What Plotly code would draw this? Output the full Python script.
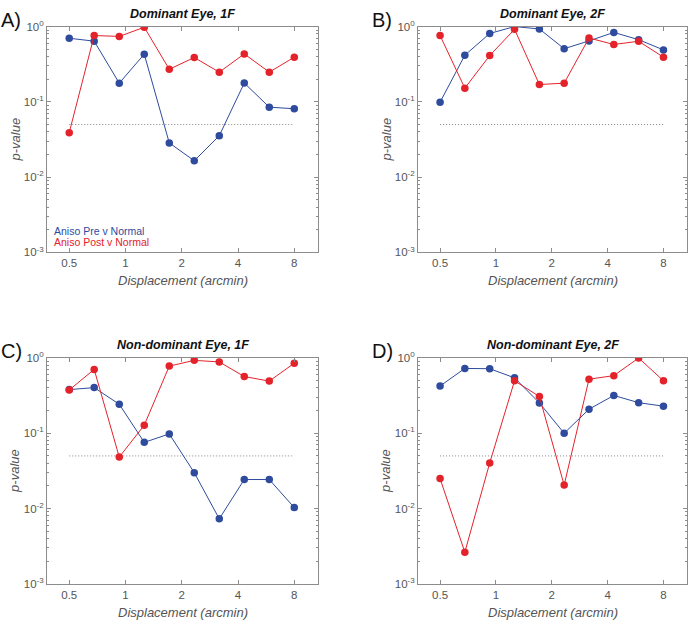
import plotly.graph_objects as go

# ---------------- data ----------------
displacement = [0.5, 0.68, 0.926, 1.26, 1.715, 2.333, 3.175, 4.32, 5.879, 8.0]

dom1f_pre = [0.70, 0.64, 0.177, 0.43, 0.0285, 0.0165, 0.0355, 0.178, 0.085, 0.081]
dom1f_post = [0.039, 0.76, 0.74, 0.98, 0.271, 0.388, 0.248, 0.433, 0.248, 0.392]

dom2f_pre = [0.099, 0.416, 0.81, 1.0, 0.93, 0.508, 0.645, 0.836, 0.67, 0.49]
dom2f_post = [0.76, 0.152, 0.412, 0.92, 0.17, 0.177, 0.705, 0.578, 0.638, 0.392]

nd1f_pre = [0.38, 0.404, 0.243, 0.0757, 0.098, 0.030, 0.0073, 0.0243, 0.0243, 0.0103]
nd1f_post = [0.376, 0.705, 0.0483, 0.128, 0.78, 0.93, 0.887, 0.567, 0.493, 0.853]

nd2f_pre = [0.424, 0.727, 0.72, 0.545, 0.253, 0.10, 0.209, 0.318, 0.255, 0.229]
nd2f_post = [0.025, 0.00263, 0.0404, 0.498, 0.308, 0.0205, 0.523, 0.583, 1.0, 0.498]

alpha_x = [0.5, 8.0]
alpha_y = [0.05, 0.05]

panel_titles = ["Dominant Eye, 1F", "Dominant Eye, 2F",
                "Non-dominant Eye, 1F", "Non-dominant Eye, 2F"]
panel_letters = ["A)", "B)", "C)", "D)"]
series_names = ["Aniso Pre v Normal", "Aniso Post v Normal"]

x_tickvals = [0.5, 1, 2, 4, 8]
x_ticktext = ["0.5", "1", "2", "4", "8"]
y_tickvals = [0.001, 0.01, 0.1, 1]
y_ticktext = ["10<sup>-3</sup>", "10<sup>-2</sup>", "10<sup>-1</sup>", "10<sup>0</sup>"]

# ---------------- styling ----------------
W, H = 688, 626
BLUE = "#2E4B9E"
RED = "#E4222A"
FRAME = "#8C8C8C"
TXT = "#555555"
FONT = "Liberation Sans, Arial, Helvetica, sans-serif"

# plot-area boxes in pixels: (left, right, top, bottom)
boxes = [(47, 318, 19, 250), (418, 687, 19, 250),
         (47, 318, 358, 589), (418, 687, 358, 589)]
data = [(dom1f_pre, dom1f_post), (dom2f_pre, dom2f_post),
        (nd1f_pre, nd1f_post), (nd2f_pre, nd2f_post)]

minor_vals = [m * 10 ** e for e in (-3, -2, -1) for m in range(2, 10)]

fig = go.Figure()
annotations = []

for i, ((l, r, t, b), (pre, post)) in enumerate(zip(boxes, data)):
    n = "" if i == 0 else str(i + 1)
    xa, ya = "x" + n, "y" + n
    fig.add_trace(go.Scatter(x=alpha_x, y=alpha_y, mode="lines",
                             line=dict(color="#888888", width=1, dash="1px,2px"),
                             xaxis=xa, yaxis=ya, showlegend=False, hoverinfo="skip"))
    fig.add_trace(go.Scatter(x=displacement, y=pre, mode="lines+markers",
                             name=series_names[0],
                             line=dict(color=BLUE, width=1),
                             marker=dict(color=BLUE, size=7.5),
                             xaxis=xa, yaxis=ya, showlegend=False))
    fig.add_trace(go.Scatter(x=displacement, y=post, mode="lines+markers",
                             name=series_names[1],
                             line=dict(color=RED, width=1),
                             marker=dict(color=RED, size=7.5),
                             xaxis=xa, yaxis=ya, showlegend=False))

    xdom = [l / W, r / W]
    ydom = [1 - b / H, 1 - t / H]
    common = dict(showline=True, linecolor=FRAME, linewidth=1, mirror="ticks",
                  ticks="inside", tickcolor=FRAME, showgrid=False, zeroline=False,
                  tickfont=dict(family=FONT, size=11.5, color=TXT))
    fig.update_layout(**{
        "xaxis" + n: dict(domain=xdom, type="log", range=[-0.42, 1.03],
                          tickvals=x_tickvals, ticktext=x_ticktext, ticklen=4,
                          anchor=ya, **common),
        "yaxis" + n: dict(domain=ydom, type="log", range=[-3, 0],
                          tickvals=y_tickvals, ticktext=y_ticktext, ticklen=4,
                          anchor=xa,
                          minor=dict(tickvals=minor_vals, ticks="inside", ticklen=2,
                                     tickcolor=FRAME, showgrid=False),
                          **common),
    })

    cx = (l + r) / 2
    # title
    annotations.append(dict(text="<b><i>" + panel_titles[i] + "</i></b>",
                            x=cx / W, y=1 - (t - 13) / H, xref="paper", yref="paper",
                            xanchor="center", yanchor="middle", showarrow=False,
                            font=dict(family=FONT, size=12.5, color="#111111")))
    # panel letter
    annotations.append(dict(text=panel_letters[i],
                            x=(l - 48) / W, y=1 - (t - 7) / H, xref="paper", yref="paper",
                            xanchor="left", yanchor="middle", showarrow=False,
                            font=dict(family=FONT, size=20, color="#111111")))
    # x-axis title
    annotations.append(dict(text="<i>Displacement (arcmin)</i>",
                            x=cx / W, y=1 - (b + 29) / H, xref="paper", yref="paper",
                            xanchor="center", yanchor="middle", showarrow=False,
                            font=dict(family=FONT, size=13, color=TXT)))
    # y-axis title
    annotations.append(dict(text="<i>p-value</i>", textangle=-90,
                            x=(l - 32) / W, y=1 - ((t + b) / 2) / H, xref="paper", yref="paper",
                            xanchor="center", yanchor="middle", showarrow=False,
                            font=dict(family=FONT, size=13, color=TXT)))

# legend text inside panel A
annotations.append(dict(text=series_names[0], x=52 / W, y=1 - 228 / H,
                        xref="paper", yref="paper", xanchor="left", yanchor="middle",
                        showarrow=False, font=dict(family=FONT, size=10.5, color=BLUE)))
annotations.append(dict(text=series_names[1], x=52 / W, y=1 - 239.5 / H,
                        xref="paper", yref="paper", xanchor="left", yanchor="middle",
                        showarrow=False, font=dict(family=FONT, size=10.5, color=RED)))

fig.update_layout(width=W, height=H, margin=dict(l=0, r=0, t=0, b=0),
                  paper_bgcolor="white", plot_bgcolor="white",
                  annotations=annotations, showlegend=False, hovermode=False)

fig.write_html("out.html",
               config={"displayModeBar": False, "staticPlot": True},
               post_script="document.body.style.margin='0px';"
                           "document.body.style.overflow='hidden';")
